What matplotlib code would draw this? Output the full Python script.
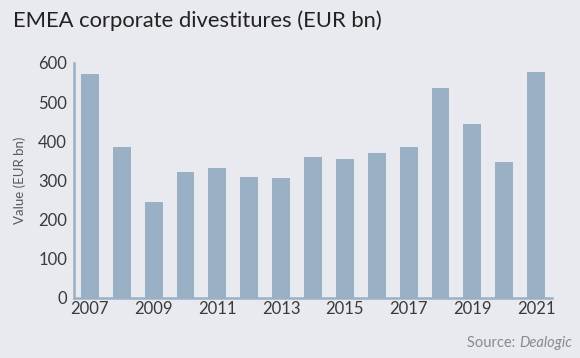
import matplotlib
matplotlib.use("Agg")
import matplotlib.pyplot as plt

years = list(range(2007, 2022))
values = [571, 386, 246, 321, 331, 310, 307, 361, 355, 369, 385, 537, 443, 347, 576]
xtick_years = [2007, 2009, 2011, 2013, 2015, 2017, 2019, 2021]
yticks = [0, 100, 200, 300, 400, 500, 600]

bg = "#e9eaef"
bar_color = "#9ab0c4"

plt.rcParams['font.family'] = ['Lato', 'DejaVu Sans']

fig = plt.figure(figsize=(5.8, 3.58), dpi=100, facecolor=bg)
ax = fig.add_axes([74/580, 1-298/358, (552-74)/580, (298-63)/358])
ax.set_facecolor(bg)

pos = list(range(len(years)))
ax.bar(pos, values, width=0.56, color=bar_color, zorder=2)
ax.set_xlim(-0.5, len(years) - 0.5)
ax.set_ylim(0, 600)
ax.set_yticks(yticks)
ax.set_yticklabels([str(v) for v in yticks])
ax.set_xticks([years.index(y) for y in xtick_years])
ax.set_xticklabels([str(y) for y in xtick_years])
ax.tick_params(axis='both', length=0, labelsize=12, colors="#3a3a3a")
ax.tick_params(axis='x', pad=2)
ax.tick_params(axis='y', pad=5)
for s in ['top', 'right']:
    ax.spines[s].set_visible(False)
for s in ['left', 'bottom']:
    ax.spines[s].set_color(bar_color)
    ax.spines[s].set_linewidth(1.8)
ax.set_ylabel("Value (EUR bn)", fontsize=9.5, color="#5a5a5a", labelpad=9)

fig.text(13/580, 1-21/358, "EMEA corporate divestitures (EUR bn)", fontsize=15.8,
         color="#222222", ha='left', va='center')
t2 = fig.text(572/580, 1-343/358, "Dealogic", fontsize=10.5, style='italic',
              color="#8a8a8a", ha='right', va='center')
fig.canvas.draw()
bb = t2.get_window_extent(renderer=fig.canvas.get_renderer())
fig.text(bb.x0 / fig.bbox.width, 1-343/358, "Source: ", fontsize=10.5,
         color="#8a8a8a", ha='right', va='center')

fig.savefig("out.png", dpi=100, facecolor=bg)
